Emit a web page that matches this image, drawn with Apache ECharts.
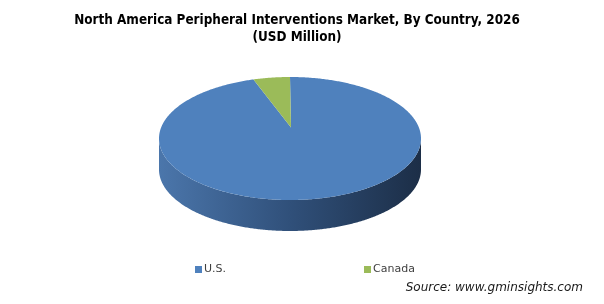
<!DOCTYPE html>
<html>
<head>
<meta charset="utf-8">
<script src="https://cdn.jsdelivr.net/npm/echarts@6/dist/echarts.min.js"></script>
<style>html,body{margin:0;padding:0;background:#fff}#c{width:604px;height:304px}</style>
</head>
<body>
<div id="c"></div>
<script>
// ---- data ----
const countries = ['U.S.', 'Canada'];
const values = [95.5, 4.5];
const colors = ['#4f81bd', '#9bbb59'];
const titleLines = ['North America Peripheral Interventions Market, By Country, 2026', '(USD Million)'];
const sourceText = 'Source: www.gminsights.com';

// ---- geometry (layout only) ----
const G = { cx: 290, cy: 138.5, rx: 131, ry: 61.5, depth: 31, apexDx: 1, apexDy: -11 };

const total = values.reduce((a, b) => a + b, 0);
let acc = 0;
const ranges = values.map(v => { const s = acc / total; acc += v; return [s, acc / total]; });

function pt(theta, dy) {
  return [G.cx + G.rx * Math.sin(theta), G.cy - G.ry * Math.cos(theta) + (dy || 0)];
}
function arc(a, b, dy) {
  const pts = [];
  const n = Math.max(2, Math.ceil((b - a) / 0.01));
  for (let i = 0; i <= n; i++) pts.push(pt(a + (b - a) * i / n, dy));
  return pts;
}

function makeRender(idx) {
  return function (params, api) {
    const a = api.value(0) * 2 * Math.PI;
    const b = api.value(1) * 2 * Math.PI;
    const children = [];
    // side wall (front half: PI/2 .. 3PI/2)
    const sa = Math.max(a, Math.PI / 2), sb = Math.min(b, 3 * Math.PI / 2);
    if (sb > sa) {
      const top = arc(sa, sb, 0);
      const bot = arc(sa, sb, G.depth).reverse();
      children.push({
        type: 'polygon', z2: 1,
        shape: { points: top.concat(bot) },
        style: {
          fill: new echarts.graphic.LinearGradient(G.cx - G.rx, 0, G.cx + G.rx, 0, [
            { offset: 0, color: idx === 0 ? '#4b76ab' : '#6f8a3e' },
            { offset: 0.5, color: idx === 0 ? '#30507a' : '#55692f' },
            { offset: 1, color: idx === 0 ? '#1c2e47' : '#3a4820' }
          ], true)
        }
      });
    }
    // top face
    const apex = [G.cx + G.apexDx, G.cy + G.apexDy];
    children.push({
      type: 'polygon', z2: 10,
      shape: { points: [apex].concat(arc(a, b, 0)) },
      style: { fill: colors[idx] }
    });
    return { type: 'group', children };
  };
}

const series = countries.map((name, i) => ({
  type: 'custom',
  name: name,
  coordinateSystem: 'none',
  renderItem: makeRender(i),
  itemStyle: { color: colors[i] },
  data: [ranges[i]],
  silent: true,
  animation: false
}));

const chart = echarts.init(document.getElementById('c'), null, { renderer: 'canvas' });
chart.setOption({
  backgroundColor: '#fff',
  animation: false,
  legend: {
    data: countries.map((n, i) => ({ name: n, icon: 'rect', itemStyle: { color: colors[i] } })),
    left: 195, top: 264, padding: 0,
    itemWidth: 7, itemHeight: 7, itemGap: 138,
    textStyle: { fontFamily: 'DejaVu Sans', fontSize: 11, color: '#404040', padding: [0, 0, 0, -3] }
  },
  graphic: [
    { type: 'text', x: 297, y: 12, style: {
      text: titleLines.join('\n'), fontFamily: 'DejaVu Sans Condensed', fontWeight: 'bold', fontSize: 13.4,
      lineHeight: 17, fill: '#000', align: 'center' } },
    { type: 'text', right: 21, top: 282, style: {
      text: sourceText, fontFamily: 'DejaVu Sans', fontStyle: 'italic', fontSize: 12, fill: '#1a1a1a' } }
  ],
  series: series
});
</script>
</body>
</html>
